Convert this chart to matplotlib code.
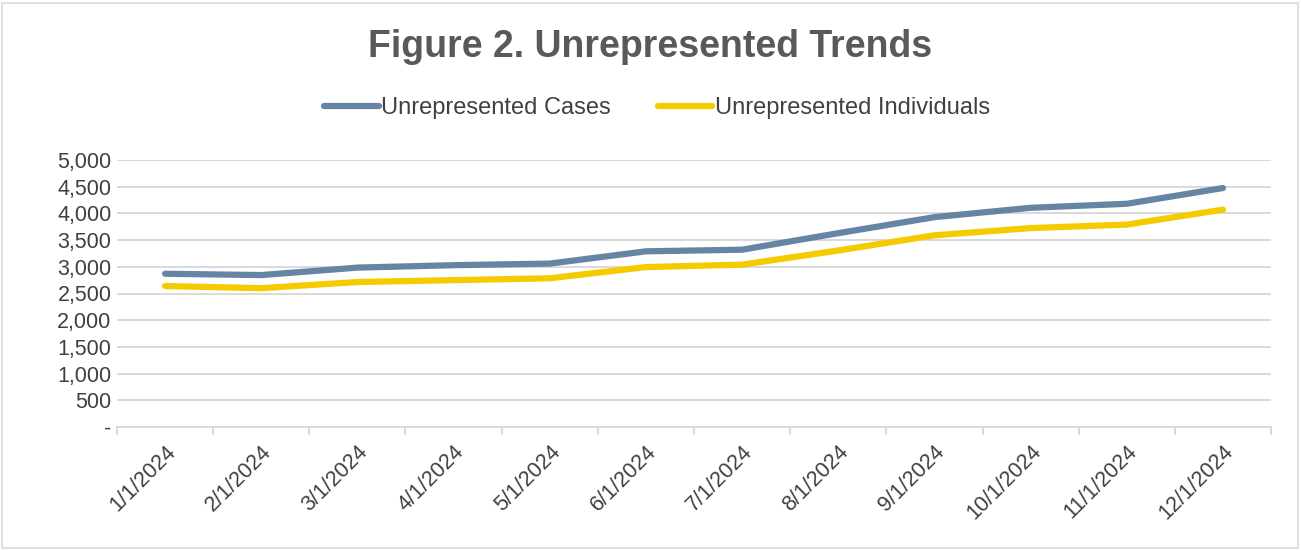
import matplotlib
matplotlib.use("Agg")
import matplotlib.pyplot as plt
from matplotlib.patches import Rectangle
from matplotlib.ticker import FuncFormatter, FixedLocator

plt.rcParams['font.family'] = ['Liberation Sans', 'DejaVu Sans']

dates = ["1/1/2024", "2/1/2024", "3/1/2024", "4/1/2024", "5/1/2024", "6/1/2024",
         "7/1/2024", "8/1/2024", "9/1/2024", "10/1/2024", "11/1/2024", "12/1/2024"]
cases = [2870, 2845, 2985, 3030, 3060, 3290, 3320, 3630, 3930, 4105, 4180, 4475]
individuals = [2640, 2600, 2715, 2750, 2785, 2995, 3040, 3305, 3590, 3725, 3790, 4070]

W, H = 1301, 550
fig = plt.figure(figsize=(W / 100, H / 100), dpi=100)
ax = fig.add_axes([117 / W, 1 - 427 / H, (1271 - 117) / W, (427 - 160) / H])

x = list(range(len(dates)))
blue = "#6685A5"
yellow = "#F5CB00"
ax.plot(x, cases, color=blue, lw=4.5, solid_capstyle="round", solid_joinstyle="round",
        label="Unrepresented Cases")
ax.plot(x, individuals, color=yellow, lw=4.5, solid_capstyle="round", solid_joinstyle="round",
        label="Unrepresented Individuals")

ax.set_xlim(-0.5, len(dates) - 0.5)
ax.set_ylim(0, 5000)
ax.set_yticks(range(0, 5001, 500))
ax.yaxis.set_major_formatter(FuncFormatter(lambda v, p: "-" if v == 0 else f"{int(v):,}"))
ax.grid(axis="y", color="#D9D9D9", lw=1.4)
ax.set_axisbelow(True)

ax.set_xticks(x)
ax.set_xticklabels(dates, rotation=45, ha="right", va="top", rotation_mode="anchor")
ax.xaxis.set_minor_locator(FixedLocator([i - 0.5 for i in range(len(dates) + 1)]))
ax.tick_params(axis="x", which="major", length=0, pad=10, labelsize=15.5, labelcolor="#404040")
ax.tick_params(axis="x", which="minor", length=6, color="#D9D9D9", width=1.4)
ax.tick_params(axis="y", length=0, pad=4, labelsize=15.5, labelcolor="#404040")

for s in ["top", "right", "left"]:
    ax.spines[s].set_visible(False)
ax.spines["bottom"].set_color("#D9D9D9")
ax.spines["bottom"].set_linewidth(1.4)

fig.text(0.5, 1 - 47 / H, "Figure 2. Unrepresented Trends", ha="center", va="center",
         fontsize=27, fontweight="bold", color="#595959")

leg = fig.legend(loc="center", bbox_to_anchor=(657 / W, 1 - 108 / H), ncol=2, frameon=False,
                 fontsize=17, handlelength=2.3, handletextpad=0.1, columnspacing=2.0)
for t in leg.get_texts():
    t.set_color("#404040")

fig.patches.append(Rectangle((2 / W, 2 / H), (W - 5) / W, (H - 5) / H, transform=fig.transFigure,
                             fill=False, edgecolor="#D9D9D9", lw=1.2))

fig.savefig("out.png", dpi=100, facecolor="white")
